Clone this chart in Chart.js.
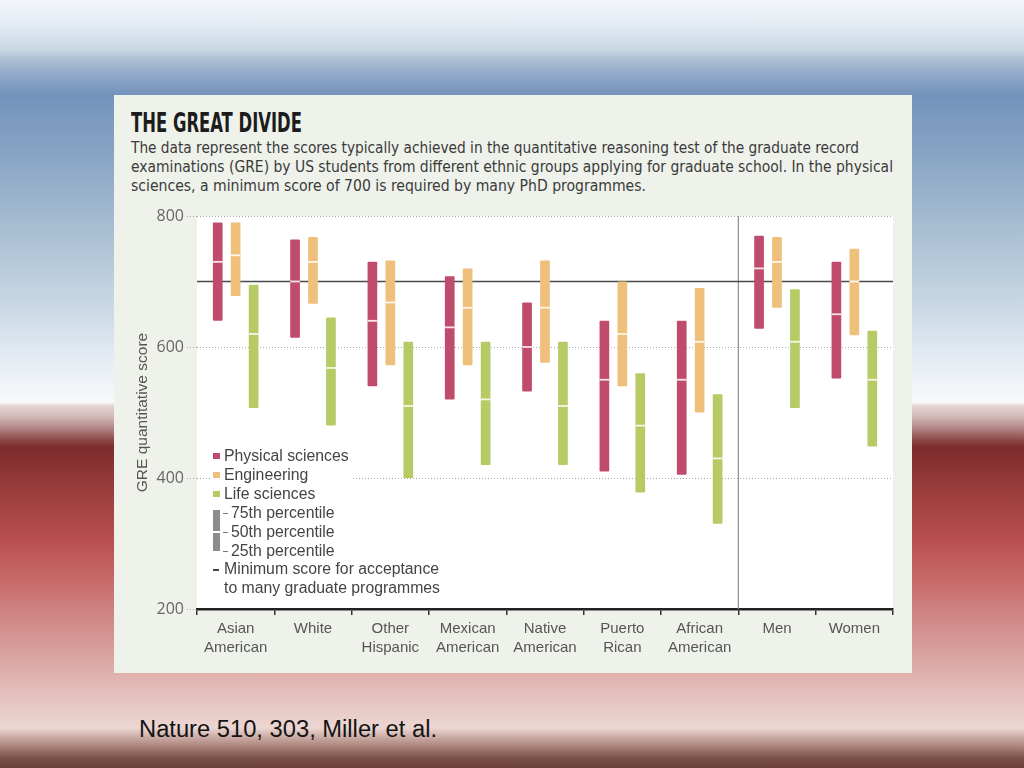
<!DOCTYPE html>
<html>
<head>
<meta charset="utf-8">
<title>The Great Divide</title>
<script src="https://cdn.jsdelivr.net/npm/chart.js@4.4.1/dist/chart.umd.min.js"></script>
<style>
    html, body { margin: 0; padding: 0; }
    body {
        width: 1024px; height: 768px; position: relative; overflow: hidden;
        font-family: "Liberation Sans", Arial, sans-serif;
        background: linear-gradient(to bottom,
            #f2f6fb 0px, #e4ecf3 25px, #c9d7e4 50px, #b2c5d8 57px, #97afcb 70px, #7492bc 95px,
            #87a3c3 150px, #9db6cd 205px, #c6d6e3 300px, #e3eaf2 355px, #f8f9fb 402px,
            #e6d3d3 406px, #d0b4b4 418px, #a67272 432px, #8f4848 440px, #7e2c2c 447px,
            #9a3c3c 490px, #b85050 540px, #c86a6a 580px, #d08a88 620px, #dcaaa6 665px,
            #e6c4c0 700px, #ecd6d2 728px, #cfb0aa 736px, #a57d75 748px, #7b5249 758px, #6a4038 768px);
    }
    #panel {
        position: absolute; left: 114px; top: 95px; width: 798px; height: 578px;
        background: #eef2ea;
    }
    .line {
        position: absolute; white-space: nowrap; transform-origin: left center;
    }
    #title {
        left: 131px; top: 111px; font-family: "Liberation Sans Narrow", "DejaVu Sans Condensed", sans-serif;
        font-weight: bold; font-size: 24px; line-height: 24px; color: #1c1c1c;
    }
    .para {
        left: 131px; font-family: "Liberation Sans Narrow", "DejaVu Sans Condensed", sans-serif;
        font-size: 16px; line-height: 19px; color: #3a3a3a;
    }
    #chart { position: absolute; left: 114px; top: 196px; }
    #legend {
        position: absolute; left: 210px; top: 446px; width: 142px; height: 154px;
        background: #fff; font-size: 15.8px; color: #444;
    }
    #legend .row { position: absolute; left: 14px; height: 19px; line-height: 19px; white-space: nowrap; }
    #legend .sw { position: absolute; left: 3px; width: 7px; height: 6px; }
    #legend .tick { position: absolute; height: 1px; background: #777; }
    #footer {
        left: 139px; top: 718px; font-size: 23px; line-height: 23px; color: #141414;
    }
</style>
</head>
<body>
<div id="panel"></div>
<div id="title" class="line">THE GREAT DIVIDE</div>
<div id="p1" class="line para" style="top:138px">The data represent the scores typically achieved in the quantitative reasoning test of the graduate record</div>
<div id="p2" class="line para" style="top:157px">examinations (GRE) by US students from different ethnic groups applying for graduate school. In the physical</div>
<div id="p3" class="line para" style="top:176px">sciences, a minimum score of 700 is required by many PhD programmes.</div>
<canvas id="chart" width="798" height="477"></canvas>
<div id="legend"></div>
<div id="footer" class="line">Nature 510, 303, Miller et al.</div>
<script>
// --- Data ---
const groups = [['Asian', 'American'], ['White'], ['Other', 'Hispanic'], ['Mexican', 'American'],
    ['Native', 'American'], ['Puerto', 'Rican'], ['African', 'American'], ['Men'], ['Women']];

const physP25 = [640, 614, 540, 520, 532, 410, 405, 628, 552];
const physP50 = [730, 700, 640, 630, 600, 550, 550, 720, 650];
const physP75 = [790, 764, 730, 708, 668, 640, 640, 770, 730];

const engP25 = [678, 666, 572, 572, 576, 540, 500, 660, 618];
const engP50 = [740, 730, 668, 660, 660, 620, 608, 730, 700];
const engP75 = [790, 768, 732, 720, 732, 700, 690, 768, 750];

const lifeP25 = [507, 480, 400, 420, 420, 378, 330, 507, 448];
const lifeP50 = [620, 568, 510, 520, 510, 480, 430, 608, 550];
const lifeP75 = [695, 645, 608, 608, 608, 560, 528, 688, 625];

const yTicks = [200, 400, 600, 800];
const minScore = 700;

const seriesNames = ['Physical sciences', 'Engineering', 'Life sciences'];
const seriesColors = ['#bf4c6c', '#efbf7c', '#b6cb64'];

// --- Helpers ---

function fitWidth(id, w, sy = 1) {
    const el = document.getElementById(id);
    const r = el.getBoundingClientRect().width;
    el.style.transform = `scale(${w / r}, ${sy})`;
}

function ranges(lo, hi) {
    return lo.map((v, i) => [v, hi[i]]);
}

// white median ticks, the 700 line and the ethnic / gender separator
const extrasPlugin = {
    id: 'extras',
    beforeDraw(chart) {
        const { ctx, chartArea: a } = chart;
        ctx.save();
        ctx.fillStyle = '#ffffff';
        ctx.fillRect(a.left, a.top, a.right - a.left, a.bottom - a.top);
        ctx.restore();
    },
    beforeDatasetsDraw(chart) {
        const { ctx, chartArea: a, scales } = chart;
        const y = scales.y.getPixelForValue(minScore);
        const sx = (scales.x.getPixelForValue(6) + scales.x.getPixelForValue(7)) / 2;
        ctx.save();
        ctx.strokeStyle = '#8c8c8c';
        ctx.lineWidth = 1.2;
        ctx.beginPath();
        ctx.moveTo(sx, a.top);
        ctx.lineTo(sx, a.bottom);
        ctx.stroke();
        ctx.strokeStyle = '#4a4a4a';
        ctx.lineWidth = 1.5;
        ctx.beginPath();
        ctx.moveTo(a.left, y);
        ctx.lineTo(a.right, y);
        ctx.stroke();
        ctx.restore();
    },
    afterDatasetsDraw(chart) {
        const { ctx, scales } = chart;
        const medians = [physP50, engP50, lifeP50];
        ctx.save();
        ctx.strokeStyle = 'rgba(255,255,255,0.85)';
        ctx.lineWidth = 1.8;
        medians.forEach((arr, di) => {
            chart.getDatasetMeta(di).data.forEach((bar, i) => {
                const y = scales.y.getPixelForValue(arr[i]);
                ctx.beginPath();
                ctx.moveTo(bar.x - bar.width / 2, y);
                ctx.lineTo(bar.x + bar.width / 2, y);
                ctx.stroke();
            });
        });
        ctx.restore();
    }
};

function renderChart() {
    const ctx = document.getElementById('chart').getContext('2d');
    const lows = [physP25, engP25, lifeP25];
    const highs = [physP75, engP75, lifeP75];
    new Chart(ctx, {
        type: 'bar',
        data: {
            labels: groups,
            datasets: seriesNames.map((name, i) => ({
                label: name,
                data: ranges(lows[i], highs[i]),
                backgroundColor: seriesColors[i],
                borderWidth: 0,
                borderRadius: 1,
                borderSkipped: false,
                categoryPercentage: 0.696,
                barPercentage: 0.54
            }))
        },
        options: {
            responsive: false,
            animation: false,
            layout: { padding: { left: 10, right: 19, top: 20, bottom: 0 } },
            plugins: {
                legend: { display: false },
                tooltip: { enabled: false }
            },
            scales: {
                x: {
                    offset: true,
                    grid: {
                        display: true, drawOnChartArea: false, offset: true,
                        color: '#333', lineWidth: 1.5, tickLength: 6
                    },
                    border: { display: true, color: '#222', width: 2.5 },
                    ticks: {
                        autoSkip: false, maxRotation: 0, padding: 4,
                        color: '#555',
                        font: { family: '"Liberation Sans", Arial, sans-serif', size: 15, lineHeight: 1.27 }
                    },
                    afterFit(scale) { scale.height = 64; }
                },
                y: {
                    min: 200, max: 800,
                    afterBuildTicks(scale) { scale.ticks = yTicks.map(v => ({ value: v })); },
                    grid: {
                        color: '#a8a8a8', lineWidth: 1, tickLength: 10,
                        tickBorderDash: [1, 2]
                    },
                    border: { display: false, dash: [1, 2] },
                    ticks: {
                        padding: 3, color: '#666',
                        font: { family: '"Open Sans", sans-serif', size: 16 }
                    },
                    title: {
                        display: true, text: 'GRE quantitative score', color: '#555',
                        padding: { top: 9, bottom: 0 },
                        font: { family: '"Liberation Sans", Arial, sans-serif', size: 15.5 }
                    },
                    afterFit(scale) { scale.width = 73; }
                }
            }
        },
        plugins: [extrasPlugin]
    });
}

function renderLegend() {
    const box = document.getElementById('legend');
    const rowH = 18.9;
    let html = '';
    seriesNames.forEach((name, i) => {
        const top = i * rowH;
        html += `<div class="sw" style="top:${top + 7}px;background:${seriesColors[i]}"></div>`;
        html += `<div class="row" style="top:${top}px">${name}</div>`;
    });
    const pct = ['75th percentile', '50th percentile', '25th percentile'];
    // grey sample bar with its median gap
    html += `<div class="sw" style="top:${3 * rowH + 7}px;height:41px;background:#8c8c8c"></div>`;
    html += `<div class="sw" style="top:${4 * rowH + 9}px;height:2px;background:#fff"></div>`;
    pct.forEach((name, i) => {
        const top = (3 + i) * rowH;
        html += `<div class="tick" style="left:13px;width:5px;top:${top + 10}px"></div>`;
        html += `<div class="row" style="left:21px;top:${top}px">${name}</div>`;
    });
    html += `<div class="tick" style="left:3px;width:6px;top:${6 * rowH + 10}px;height:1.5px;background:#444"></div>`;
    html += `<div class="row" style="top:${6 * rowH}px">Minimum score for acceptance</div>`;
    html += `<div class="row" style="top:${7 * rowH}px">to many graduate programmes</div>`;
    box.innerHTML = html;
}

fitWidth('title', 171, 1.12);
fitWidth('p1', 728);
fitWidth('p2', 762);
fitWidth('p3', 515);
fitWidth('footer', 298);
renderLegend();
renderChart();
</script>
</body>
</html>
